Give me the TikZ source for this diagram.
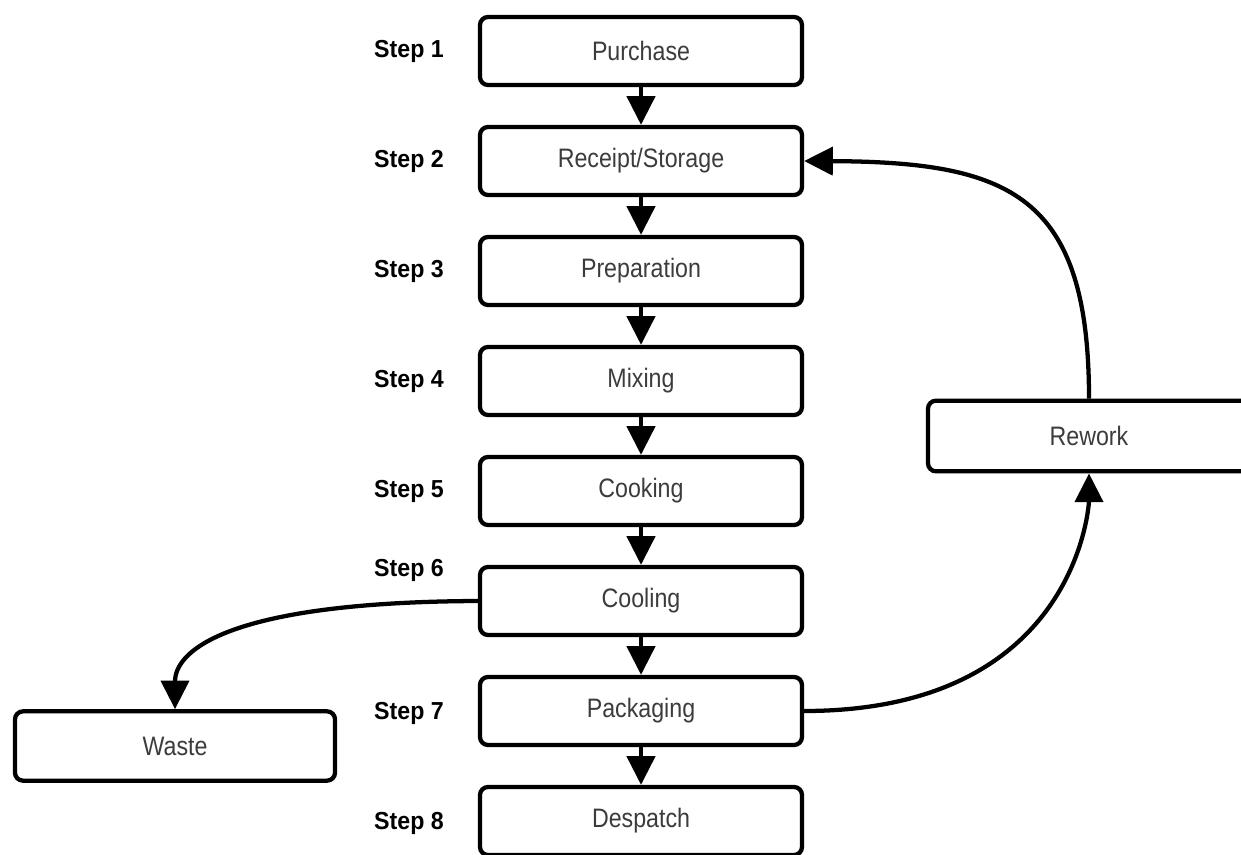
\documentclass[tikz,border=0pt]{standalone}
\usepackage{graphicx}
\usepackage{fontspec}
\setmainfont{Liberation Sans}
\usetikzlibrary{arrows.meta}
\definecolor{txtgray}{HTML}{3C3C3C}
\newcommand{\bxt}[1]{\scalebox{1}[1.15]{#1}}
\newcommand{\sxt}[1]{\scalebox{1}[1.06]{#1}}
\begin{document}
\begin{tikzpicture}[x=0.75pt,y=-0.75pt,
  box/.style={draw=black, line width=3.2pt, rounded corners=6pt, fill=white,
    minimum width=241.5pt, minimum height=51pt, inner sep=0pt,
    text=txtgray, font=\fontsize{17.4pt}{20pt}\selectfont},
  steplbl/.style={inner sep=0pt, font=\bfseries\fontsize{17.4pt}{20pt}\selectfont},
  arr/.style={line width=3.2pt, -{Triangle[length=21.5pt,width=21pt]}}
]
\clip (0,0) rectangle (1241,855);
\fill[white] (0,0) rectangle (1241,855);
% main column
\node[box] (b1) at (641,51) {\bxt{Purchase}};
\node[box] (b2) at (641,161) {\bxt{Receipt/Storage}};
\node[box] (b3) at (641,271) {\bxt{Preparation}};
\node[box] (b4) at (641,381) {\bxt{Mixing}};
\node[box] (b5) at (641,491) {\bxt{Cooking}};
\node[box] (b6) at (641,601) {\bxt{Cooling}};
\node[box] (b7) at (641,711) {\bxt{Packaging}};
\node[box] (b8) at (641,821) {\bxt{Despatch}};
% side boxes
\node[box, minimum width=240pt, minimum height=52pt] (w) at (175,746) {\bxt{Waste}};
\node[box, minimum width=241.5pt, minimum height=53pt] (rw) at (1089,436) {\bxt{Rework}};
% step labels
\node[steplbl] (s1) at (409,51) {\sxt{Step 1}};
\node[steplbl] (s2) at (409,161) {\sxt{Step 2}};
\node[steplbl] (s3) at (409,271) {\sxt{Step 3}};
\node[steplbl] (s4) at (409,381) {\sxt{Step 4}};
\node[steplbl] (s5) at (409,491) {\sxt{Step 5}};
\node[steplbl] (s6) at (409,570) {\sxt{Step 6}};
\node[steplbl] (s7) at (409,713) {\sxt{Step 7}};
\node[steplbl] (s8) at (409,823) {\sxt{Step 8}};
% column arrows
\draw[arr] (b1.south) -- (b2.north);
\draw[arr] (b2.south) -- (b3.north);
\draw[arr] (b3.south) -- (b4.north);
\draw[arr] (b4.south) -- (b5.north);
\draw[arr] (b5.south) -- (b6.north);
\draw[arr] (b6.south) -- (b7.north);
\draw[arr] (b7.south) -- (b8.north);
% curved arrows
\draw[arr] (b6.west) .. controls (230,602) and (175,650) .. (w.north);
\draw[arr] (b7.east) .. controls (1080,711) and (1089,500) .. (rw.south);
\draw[arr] (rw.north) .. controls (1089,195) and (1010,162) .. (b2.east);
\end{tikzpicture}
\end{document}
